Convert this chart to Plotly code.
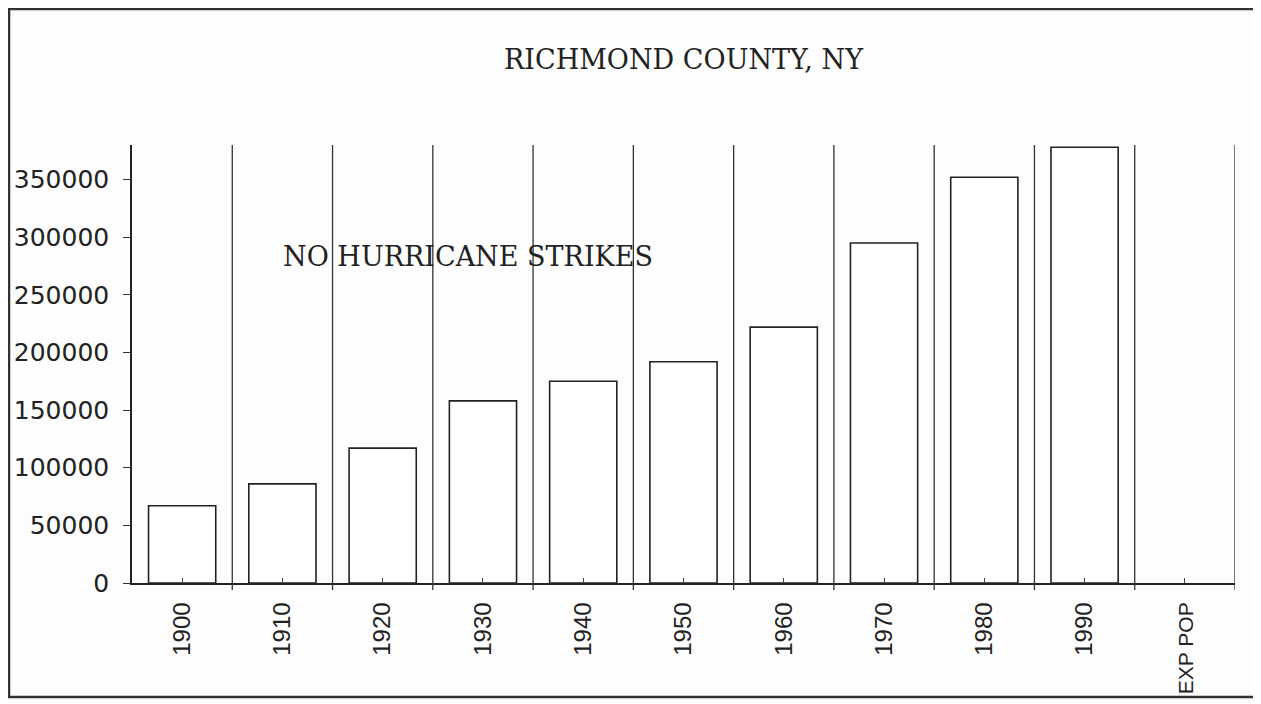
import plotly.graph_objects as go

categories = ["1900", "1910", "1920", "1930", "1940", "1950", "1960", "1970", "1980", "1990", "EXP POP"]
population = [67000, 86000, 117000, 158000, 175000, 192000, 222000, 295000, 352000, 378000, None]
y_ticks = [0, 50000, 100000, 150000, 200000, 250000, 300000, 350000]

# the long text label is set a little smaller so it fits above the page frame
tick_text = [c if len(c) <= 4 else f"<span style='font-size:21px'>{c}</span>" for c in categories]

fig = go.Figure()
fig.add_trace(go.Bar(
    x=list(range(len(categories))), y=population, width=0.67,
    marker=dict(color="white", line=dict(color="#222", width=1.6)),
    showlegend=False, hoverinfo="x+y",
))

shapes = []
for i in range(len(categories)):
    shapes.append(dict(type="line", xref="x", yref="paper", x0=i + 0.5, x1=i + 0.5,
                       y0=-0.016, y1=1.0, line=dict(color="#333", width=1.3)))
# scanned page frame
shapes.append(dict(type="rect", xref="paper", yref="paper", x0=-0.1115, x1=1.0181, y0=-0.2603, y1=1.3105,
                   line=dict(color="#333", width=2.5)))

fig.update_layout(
    width=1253, height=696,
    margin=dict(l=124, r=26, t=137, b=121, autoexpand=False),
    paper_bgcolor="#fdfdfd", plot_bgcolor="#fdfdfd",
    title=dict(text="RICHMOND COUNTY, NY", x=0.5, xref="paper", y=1 - 52 / 696, yref="container",
               xanchor="center", yanchor="middle",
               font=dict(family="DejaVu Serif", size=27, color="#222")),
    xaxis=dict(tickmode="array", tickvals=list(range(len(categories))), ticktext=tick_text,
               range=[-0.5, len(categories) - 0.5], tickangle=-90, automargin=False,
               showline=True, linecolor="#222", linewidth=1.5, showgrid=False, zeroline=False,
               ticks="inside", ticklen=5, tickcolor="#444", ticklabelstandoff=8,
               tickfont=dict(family="Liberation Sans", size=24, color="#222")),
    yaxis=dict(tickmode="array", tickvals=y_ticks, ticktext=[str(v) for v in y_ticks],
               range=[0, 380000], showline=True, linecolor="#222", linewidth=1.5, automargin=False,
               showgrid=False, zeroline=False, ticks="outside", ticklen=7, tickcolor="#333",
               ticklabelstandoff=9,
               tickfont=dict(family="DejaVu Sans", size=25, color="#222")),
    shapes=shapes,
    annotations=[dict(text="NO HURRICANE STRIKES", xref="paper", yref="y", x=0.305, y=283000,
                      showarrow=False, xanchor="center", yanchor="middle",
                      font=dict(family="DejaVu Serif", size=27, color="#222"))],
    bargap=0.33,
)

fig.write_html("out.html")
